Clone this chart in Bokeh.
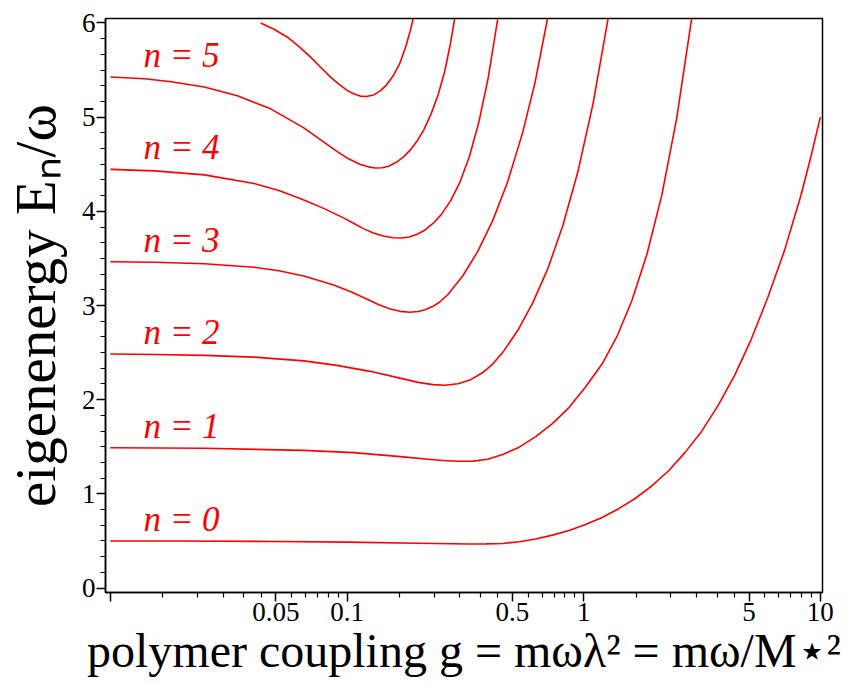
from bokeh.plotting import figure
from bokeh.models import FixedTicker, SingleIntervalTicker, Range1d, CustomJSTickFormatter
from bokeh.core.properties import value
from bokeh.embed import file_html
from bokeh.resources import INLINE
import numpy as np

# ---------------- data ----------------
g0 = [0.01, 0.02, 0.05, 0.1, 0.2, 0.329, 0.387, 0.4545, 0.534, 0.627, 0.7375, 0.8666, 1.018, 1.196,
      1.406, 1.651, 1.940, 2.280, 2.677, 3.148, 3.699, 4.343, 5.105, 6.000, 7.045, 8.281, 9.124, 10.0]
E0 = [0.500, 0.499, 0.495, 0.488, 0.476, 0.468, 0.469, 0.474, 0.492, 0.521, 0.562, 0.611, 0.675, 0.749,
      0.843, 0.951, 1.086, 1.243, 1.438, 1.663, 1.939, 2.258, 2.641, 3.087, 3.580, 4.170, 4.582, 5.000]

g1 = [0.01, 0.02495, 0.06569, 0.1065, 0.1727, 0.2201, 0.2543, 0.2941, 0.3400, 0.3932, 0.4545, 0.5342,
      0.6271, 0.7375, 0.8666, 1.0176, 1.1959, 1.3829, 1.5988, 1.8490, 2.1375, 2.4715, 2.8576]
E1 = [1.490, 1.484, 1.462, 1.438, 1.393, 1.368, 1.355, 1.346, 1.348, 1.368, 1.417, 1.496,
      1.608, 1.746, 1.916, 2.134, 2.378, 2.671, 3.053, 3.542, 4.169, 4.987, 6.043]

g2 = [0.01, 0.01538, 0.02495, 0.04047, 0.06569, 0.0906, 0.1252, 0.1727, 0.1997, 0.2309, 0.2594, 0.2941,
      0.3304, 0.3746, 0.4126, 0.4545, 0.5262, 0.6091, 0.7056, 0.8167, 0.9455, 1.0948, 1.2674]
E2 = [2.485, 2.480, 2.471, 2.452, 2.412, 2.364, 2.301, 2.221, 2.184, 2.160, 2.154, 2.169,
      2.208, 2.288, 2.378, 2.500, 2.734, 3.028, 3.392, 3.850, 4.422, 5.141, 6.042]

g3 = [0.01, 0.01538, 0.02495, 0.04047, 0.05155, 0.06569, 0.08777, 0.1045, 0.1211, 0.1356, 0.1523, 0.1678,
      0.1843, 0.1997, 0.2137, 0.2309, 0.2464, 0.2670, 0.3086, 0.3568, 0.4126, 0.4770, 0.5514, 0.6223, 0.7026]
E3 = [3.465, 3.459, 3.443, 3.406, 3.369, 3.314, 3.218, 3.143, 3.069, 3.011, 2.963, 2.938,
      2.929, 2.936, 2.954, 2.991, 3.037, 3.117, 3.316, 3.574, 3.901, 4.312, 4.830, 5.361, 6.040]

g4 = [0.01, 0.01538, 0.02495, 0.04047, 0.05155, 0.06569, 0.07963, 0.09667, 0.1065, 0.1173, 0.1292, 0.1423,
      0.1568, 0.1694, 0.1831, 0.1978, 0.2137, 0.2309, 0.2495, 0.2735, 0.2998, 0.3287, 0.3603, 0.3951, 0.4331]
E4 = [4.445, 4.429, 4.387, 4.296, 4.222, 4.121, 4.031, 3.930, 3.874, 3.816, 3.770, 3.738,
      3.719, 3.716, 3.728, 3.756, 3.802, 3.871, 3.962, 4.108, 4.308, 4.579, 4.942, 5.418, 6.039]

g5 = [0.01, 0.01396, 0.01808, 0.02495, 0.03444, 0.04757, 0.06569, 0.07714, 0.0906, 0.1015, 0.1139, 0.1231,
      0.1317, 0.1410, 0.1509, 0.1614, 0.1727, 0.1848, 0.1978, 0.2116, 0.2264, 0.2423, 0.2581, 0.2722, 0.2849]
E5 = [5.426, 5.407, 5.375, 5.319, 5.226, 5.088, 4.886, 4.762, 4.637, 4.557, 4.498, 4.472,
      4.460, 4.463, 4.482, 4.520, 4.575, 4.649, 4.746, 4.870, 5.032, 5.232, 5.476, 5.752, 6.042]

g6 = [0.04318, 0.04911, 0.05586, 0.06253, 0.07002, 0.07714, 0.08501, 0.0921, 0.09981, 0.1065, 0.1136,
      0.1208, 0.1292, 0.1382, 0.1470, 0.1568, 0.1673, 0.1778, 0.1848, 0.1903]
E6 = [6.000, 5.933, 5.851, 5.752, 5.639, 5.532, 5.428, 5.354, 5.287, 5.248, 5.223,
      5.219, 5.234, 5.279, 5.343, 5.439, 5.572, 5.763, 5.912, 6.042]

curve_labels = ["n = 0", "n = 1", "n = 2", "n = 3", "n = 4", "n = 5"]
x_ticks = [0.01, 0.05, 0.1, 0.5, 1, 5, 10]
y_tick_interval = 1

curves = [(g0, E0), (g1, E1), (g2, E2), (g3, E3), (g4, E4), (g5, E5), (g6, E6)]

# ---------------- styling ----------------
RED = "#ff0000"
SERIF = "Liberation Serif"
LABEL_G = 0.0138         # horizontal position of the n = ... labels
LABEL_DY = 0.23          # baseline above the curve start

minor = []
for a, b in zip(x_ticks[:-1], x_ticks[1:]):
    minor.extend(list(np.linspace(a, b, 7)[1:-1]))

p = figure(width=867, height=683, x_axis_type="log",
           x_range=Range1d(0.00954, 10.21), y_range=Range1d(-0.047, 6.047),
           output_backend="svg", toolbar_location=None,
           min_border_left=101, min_border_right=45,
           min_border_top=18, min_border_bottom=91)

p.background_fill_color = "white"
p.border_fill_color = "white"
p.outline_line_color = "black"
p.outline_line_width = 1.5
p.outline_line_alpha = 1.0
p.xgrid.visible = False
p.ygrid.visible = False

for g, E in curves:
    p.line(g, E, line_color=RED, line_width=1.6, line_join="round")

p.text(x=[LABEL_G] * len(curve_labels),
       y=[c[1][0] + LABEL_DY for c in curves[:len(curve_labels)]],
       text=curve_labels, text_font=value(SERIF), text_font_size="35px",
       text_font_style="italic", text_color=RED,
       text_align="left", text_baseline="alphabetic")

xa = p.xaxis[0]
xa.ticker = FixedTicker(ticks=x_ticks, minor_ticks=minor)
xa.formatter = CustomJSTickFormatter(code="return tick < 0.02 ? '' : String(tick);")
ya = p.yaxis[0]
ya.ticker = SingleIntervalTicker(interval=y_tick_interval, num_minor_ticks=6)

for ax in (xa, ya):
    ax.axis_line_color = "black"
    ax.axis_line_width = 1.5
    ax.major_tick_line_color = "black"
    ax.minor_tick_line_color = "black"
    ax.major_tick_line_width = 1.5
    ax.minor_tick_line_width = 1.2
    ax.major_tick_in = 0
    ax.major_tick_out = 9
    ax.minor_tick_in = 0
    ax.minor_tick_out = 5
    ax.major_label_text_font = SERIF
    ax.major_label_text_font_size = "27px"
    ax.major_label_text_color = "black"
    ax.major_label_standoff = 1
    ax.axis_label_text_font = SERIF
    ax.axis_label_text_font_style = "normal"
    ax.axis_label_text_color = "black"

xa.axis_label = "polymer coupling g = mωλ² = mω/M⋆²"
xa.axis_label_text_font_size = "48px"
xa.axis_label_standoff = 0

ya.axis_label = "eigenenergy Eₙ/ω"
ya.axis_label_text_font_size = "57px"
ya.axis_label_standoff = 12

open("out.html", "w").write(file_html(p, INLINE))
